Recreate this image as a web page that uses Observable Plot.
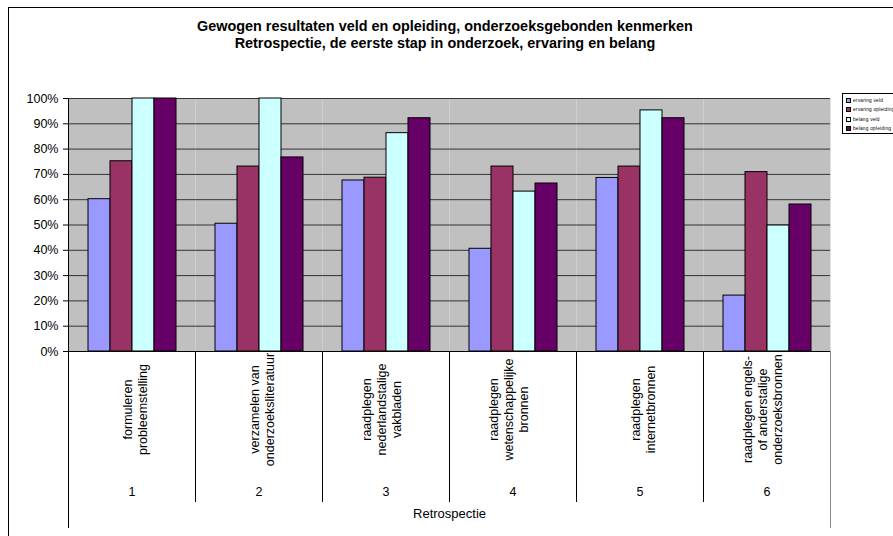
<!DOCTYPE html>
<html>
<head>
<meta charset="utf-8">
<script src="https://cdn.jsdelivr.net/npm/d3@7"></script>
<script src="https://cdn.jsdelivr.net/npm/@observablehq/plot@0.6"></script>
<style>
html,body{margin:0;padding:0;background:#fff;overflow:hidden;width:893px;height:536px;}
#wrap{position:relative;width:893px;height:536px;font-family:"Liberation Sans",Arial,sans-serif;color:#000;}
#border{position:absolute;left:8px;top:7px;width:1000px;height:1000px;border-left:1px solid #000;border-top:1px solid #000;}
#title{position:absolute;left:0;width:890px;top:18px;text-align:center;font-weight:bold;font-size:14.4px;line-height:17px;}
#chart{position:absolute;left:0;top:0;}
#legend{position:absolute;left:842px;top:93px;width:70px;height:39px;border:1px solid #000;background:#fff;font-size:4.8px;}
.lrow{position:absolute;left:3px;height:5px;line-height:5px;white-space:nowrap;letter-spacing:0.2px;}
.lsw{display:inline-block;width:3px;height:3px;border:0.6px solid #000;margin-right:2px;vertical-align:middle;}
</style>
</head>
<body>
<div id="wrap">
  <div id="border"></div>
  <div id="title">Gewogen resultaten veld en opleiding, onderzoeksgebonden kenmerken<br>Retrospectie, de eerste stap in onderzoek, ervaring en belang</div>
  <div id="chart"></div>
  <div id="legend"></div>
</div>
<script>
// ---- data ----
const categories = ["1", "2", "3", "4", "5", "6"];
const categoryLabels = [
  "formuleren\nprobleemstelling",
  "verzamelen van\nonderzoeksliteratuur",
  "raadplegen\nnederlandstalige\nvakbladen",
  "raadplegen\nwetenschappelijke\nbronnen",
  "raadplegen\ninternetbronnen",
  "raadplegen engels-\nof anderstalige\nonderzoeksbronnen"
];
const series = ["ervaring veld", "ervaring opleiding", "belang veld", "belang opleiding"];
const seriesColors = ["#9999ff", "#993366", "#ccffff", "#660066"];
const ervaringVeld      = [0.602, 0.505, 0.676, 0.406, 0.686, 0.221];
const ervaringOpleiding = [0.752, 0.731, 0.687, 0.731, 0.731, 0.709];
const belangVeld        = [1.000, 1.000, 0.863, 0.632, 0.953, 0.498];
const belangOpleiding   = [1.000, 0.767, 0.922, 0.664, 0.922, 0.581];
const yTicks = [0, 0.1, 0.2, 0.3, 0.4, 0.5, 0.6, 0.7, 0.8, 0.9, 1.0];
const axisTitle = "Retrospectie";

const seriesValues = [ervaringVeld, ervaringOpleiding, belangVeld, belangOpleiding];
const rows = categories.flatMap((c, i) =>
  series.map((s, j) => ({cat: c, series: s, value: seriesValues[j][i]})));

// ---- layout ----
const W = 893, H = 536, mT = 98, mB = 185, mL = 66, mR = 62;
const plotH = H - mT - mB;

const chart = Plot.plot({
  width: W, height: H,
  marginLeft: mL, marginRight: mR, marginTop: mT, marginBottom: mB,
  style: {fontFamily: "'Liberation Sans', Arial, sans-serif", fontSize: "12.5px", color: "#000", background: "transparent"},
  fx: {domain: categories, padding: 0, axis: null},
  x: {domain: series, paddingInner: 0, paddingOuter: 0.77, axis: null},
  y: {domain: [0, 1]},
  color: {domain: series, range: seriesColors},
  marks: [
    Plot.frame({fill: "#c0c0c0"}),
    Plot.ruleY(yTicks, {stroke: "#333", strokeWidth: 1}),
    Plot.barY(rows, {fx: "cat", x: "series", y: "value", fill: "series", stroke: "#000", strokeWidth: 1}),
    Plot.ruleY([0], {stroke: "#000", strokeWidth: 1}),
    Plot.axisY({ticks: yTicks, tickFormat: d3.format(".0%"), tickSize: 5, tickPadding: 5, label: null, stroke: "#000", fontSize: 12.5}),
    Plot.frame({anchor: "left", facetAnchor: "left", stroke: "#000", strokeWidth: 1}),
    Plot.frame({anchor: "left", insetTop: plotH, insetBottom: -150, stroke: "#000", strokeWidth: 1}),
    Plot.frame({anchor: "left", facetAnchor: "left", insetTop: plotH, insetBottom: -176, stroke: "#000", strokeWidth: 1}),
    Plot.frame({anchor: "right", facetAnchor: "right", insetTop: plotH, insetBottom: -176, stroke: "#888", strokeWidth: 1}),
    Plot.text(categories, {fx: d => d, text: (d, i) => categoryLabels[i], frameAnchor: "bottom", rotate: -90, dx: 15, dy: 58, lineHeight: 1.2, fontSize: 12.5}),
    Plot.text(categories, {fx: d => d, text: d => d, frameAnchor: "bottom", dy: 144, fontSize: 12.5}),
    Plot.text([axisTitle], {facet: "super", text: d => d, frameAnchor: "bottom", dy: 166, fontSize: 13})
  ]
});
document.getElementById("chart").appendChild(chart);

// legend
const legend = document.getElementById("legend");
series.forEach((s, i) => {
  const row = document.createElement("div");
  row.className = "lrow";
  row.style.top = (3.5 + i * 9.5) + "px";
  const sw = document.createElement("span");
  sw.className = "lsw";
  sw.style.background = seriesColors[i];
  row.appendChild(sw);
  row.appendChild(document.createTextNode(s));
  legend.appendChild(row);
});
</script>
</body>
</html>
